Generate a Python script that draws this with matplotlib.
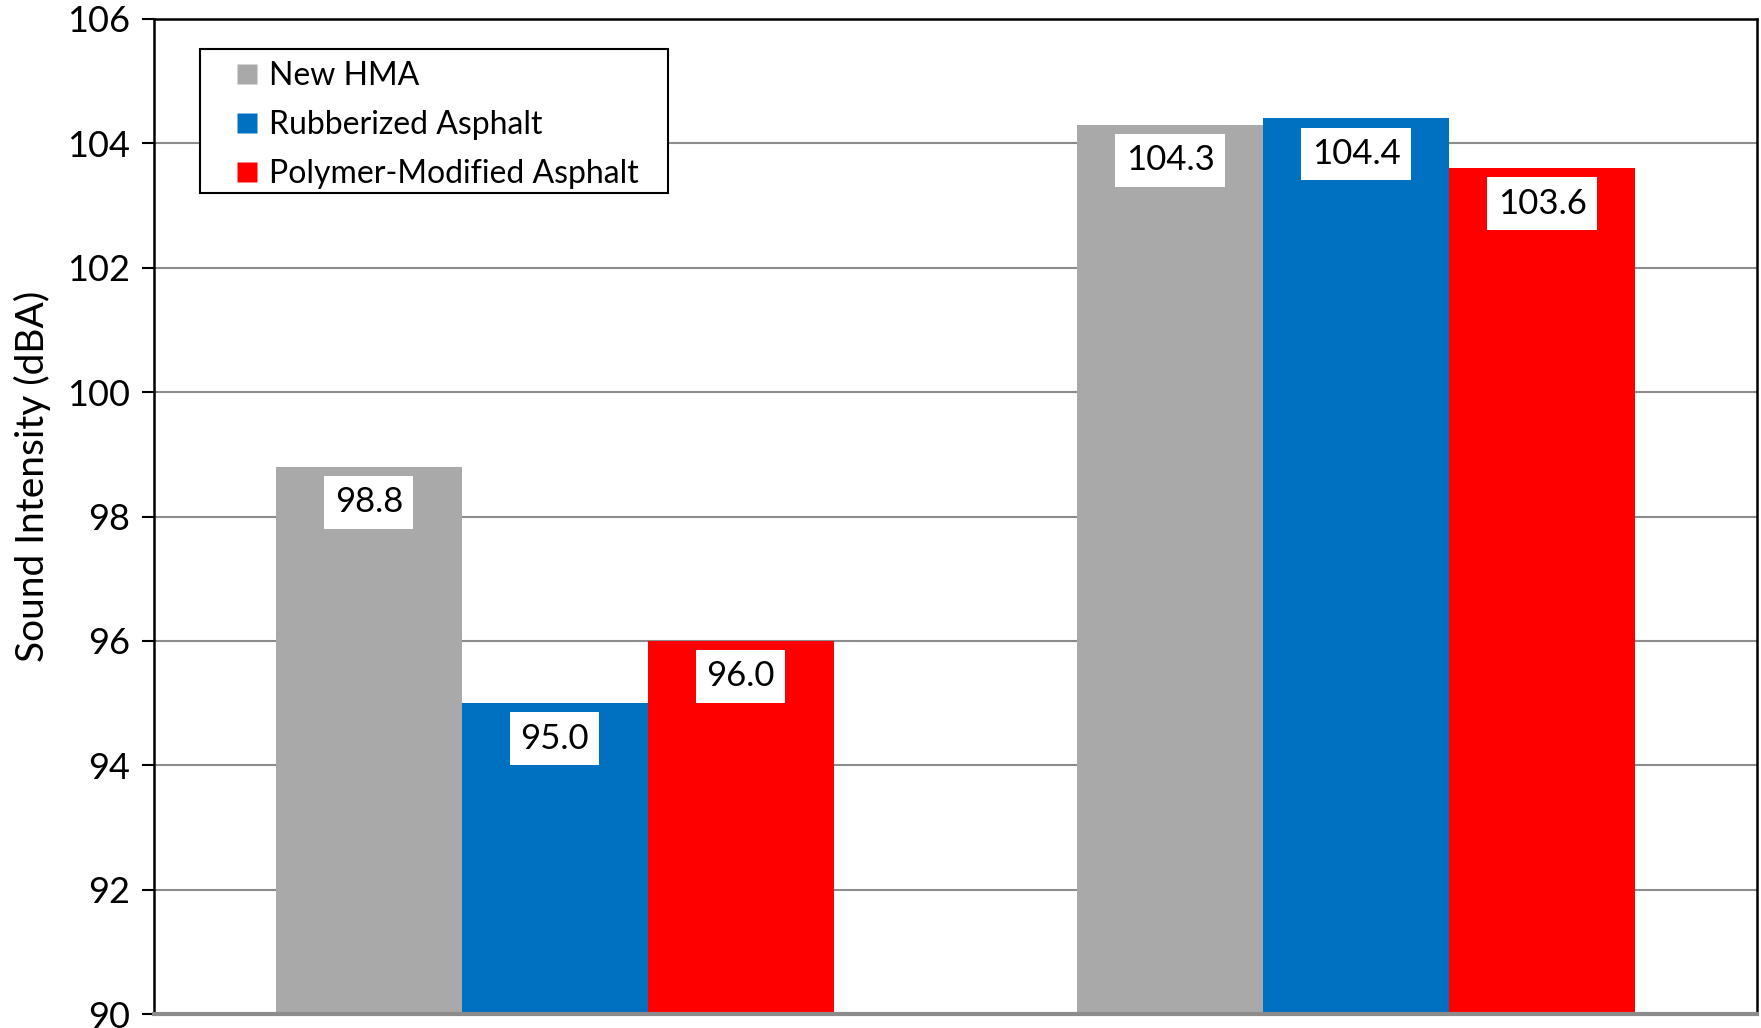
import matplotlib.pyplot as plt
from matplotlib.lines import Line2D
from matplotlib.patches import Rectangle
import numpy as np

# data
groups = ["Group 1", "Group 2"]
series = ["New HMA", "Rubberized Asphalt", "Polymer-Modified Asphalt"]
new_hma = [98.8, 104.3]
rubberized = [95.0, 104.4]
polymer = [96.0, 103.6]
y_ticks = [90, 92, 94, 96, 98, 100, 102, 104, 106]

colors = ["#a9a9a9", "#0070c0", "#ff0000"]

plt.rcParams["font.family"] = ["Lato", "DejaVu Sans"]

W, H = 1761, 1028
fig = plt.figure(figsize=(W / 100, H / 100), dpi=100)
ax = fig.add_axes([154 / W, 1 - 1014 / H, (1757 - 154) / W, (1014 - 19) / H])

x = np.arange(len(groups))
width = 0.232
offsets = [-width, 0, width]

for vals, off, col in zip([new_hma, rubberized, polymer], offsets, colors):
    bars = ax.bar(x + off, np.array(vals) - 90, width, bottom=90, color=col,
                  zorder=2)
    for b, v in zip(bars, vals):
        ax.annotate(f"{v:.1f}", (b.get_x() + b.get_width() / 2, v),
                    xytext=(0, -14), textcoords="offset points",
                    ha="center", va="top", fontsize=25, zorder=4,
                    bbox=dict(boxstyle="square,pad=0.3", fc="white", ec="none"))

ax.set_xlim(-0.5, 1.5)
ax.set_ylim(90, 106)
ax.set_yticks(y_ticks)
ax.set_yticklabels([str(t) for t in y_ticks], fontsize=26)
ax.set_xticks([])

ax.yaxis.grid(True, color="#8c8c8c", linewidth=1.5, zorder=1)
ax.set_axisbelow(True)

ax.tick_params(axis="y", direction="out", length=9, width=1.5, pad=8)
for side in ["left", "top", "right"]:
    ax.spines[side].set_color("black")
    ax.spines[side].set_linewidth(1.8)
ax.spines["bottom"].set_color("#8c8c8c")
ax.spines["bottom"].set_linewidth(3)

ax.set_ylabel("Sound Intensity (dBA)", fontsize=28)
ax.yaxis.set_label_coords(-0.064, 0.54)

# legend frame drawn separately so the padding can match the reference
fig.patches.append(Rectangle((200 / W, 1 - 193 / H), 468 / W, 144 / H,
                             transform=fig.transFigure, fill=True,
                             facecolor="white", edgecolor="black",
                             linewidth=1.5, zorder=5))

handles = [Line2D([], [], marker="s", linestyle="none", markersize=14,
                  markerfacecolor=c, markeredgecolor="none") for c in colors]
leg = fig.legend(handles, series, loc="upper left",
                 bbox_to_anchor=(237 / W, 1 - 61 / H),
                 fontsize=23, frameon=False,
                 handlelength=0.6, handletextpad=0.4, labelspacing=0.6,
                 borderpad=0, borderaxespad=0)
leg.set_zorder(6)

fig.savefig("out.png", dpi=100)
